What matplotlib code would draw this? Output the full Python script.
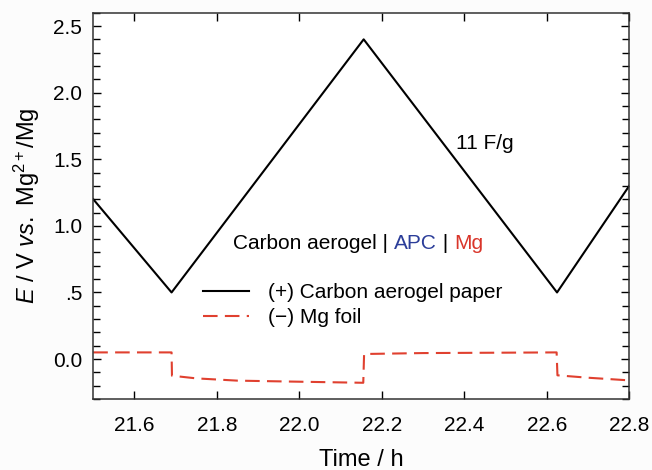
import matplotlib
matplotlib.use("Agg")
import matplotlib.pyplot as plt
from matplotlib.ticker import MultipleLocator, FixedLocator, FixedFormatter

plt.rcParams['font.family'] = ['Liberation Sans', 'DejaVu Sans']
plt.rcParams['mathtext.fontset'] = 'custom'
plt.rcParams['mathtext.rm'] = 'Liberation Sans'
plt.rcParams['mathtext.it'] = 'Liberation Sans:italic'

# (+) carbon aerogel paper
t_pos = [21.50, 21.69, 22.156, 22.625, 22.80]
e_pos = [1.20, 0.50, 2.40, 0.50, 1.30]

# (-) Mg foil
t_neg = [21.50, 21.69, 21.691, 21.75, 21.85, 22.00, 22.155, 22.157, 22.30, 22.50, 22.624, 22.626, 22.70, 22.80]
e_neg = [0.05, 0.05, -0.125, -0.145, -0.162, -0.170, -0.178, 0.038, 0.045, 0.048, 0.05, -0.122, -0.14, -0.16]

y_ticks = [0.0, 0.5, 1.0, 1.5, 2.0, 2.5]
y_labels = ["0.0", ".5", "1.0", "1.5", "2.0", "2.5"]
x_ticks = [21.6, 21.8, 22.0, 22.2, 22.4, 22.6, 22.8]

fig = plt.figure(figsize=(6.52, 4.70), dpi=100)
fig.patch.set_facecolor('#fcfcfc')
ax = fig.add_axes([0.143, 0.151, 0.822, 0.822])
ax.set_facecolor('white')

ax.plot(t_pos, e_pos, color='black', lw=1.5, label='(+) Carbon aerogel paper')
ax.plot(t_neg, e_neg, color='#e0402f', lw=1.5, dashes=(7, 3.5), label='(\u2212) Mg foil')

ax.set_xlim(21.5, 22.8)
ax.set_ylim(-0.3, 2.6)
ax.xaxis.set_major_locator(FixedLocator(x_ticks))
ax.yaxis.set_major_locator(FixedLocator(y_ticks))
ax.yaxis.set_major_formatter(FixedFormatter(y_labels))
ax.yaxis.set_minor_locator(MultipleLocator(0.1))
ax.tick_params(which='both', direction='in', top=True, right=True, labelsize=15, width=1)
ax.tick_params(which='major', length=6)
ax.tick_params(which='minor', length=5)
ax.tick_params(axis='x', pad=12)
ax.tick_params(axis='y', pad=8)
for s in ax.spines.values():
    s.set_linewidth(1.1)
    s.set_color('#333333')

ax.set_xlabel('Time / h', fontsize=17, labelpad=10)
ax.set_ylabel(r'$\it{E}$ / V $\it{vs.}$ Mg$^{2+}$/Mg', fontsize=17, labelpad=8)

ax.text(22.38, 1.62, '11 F/g', fontsize=15, va='center')

# "Carbon aerogel | APC | Mg" with coloured parts
parts = [('Carbon aerogel | ', 'black'), ('APC', '#2b3d99'), (' | ', 'black'), ('Mg', '#d9352a')]
x_t, y_t = 21.84, 0.87
fig.canvas.draw()
for txt, col in parts:
    t = ax.text(x_t, y_t, txt, fontsize=15, color=col, va='center')
    fig.canvas.draw()
    bb = t.get_window_extent()
    x_t = ax.transData.inverted().transform((bb.x1, bb.y0))[0]

ax.legend(loc='upper left', bbox_to_anchor=(0.205, 0.3), frameon=False, fontsize=15,
          handlelength=2.2, handletextpad=0.9, labelspacing=0.3, borderaxespad=0,
          borderpad=0)

fig.savefig('out.png', dpi=100, facecolor=fig.get_facecolor())
